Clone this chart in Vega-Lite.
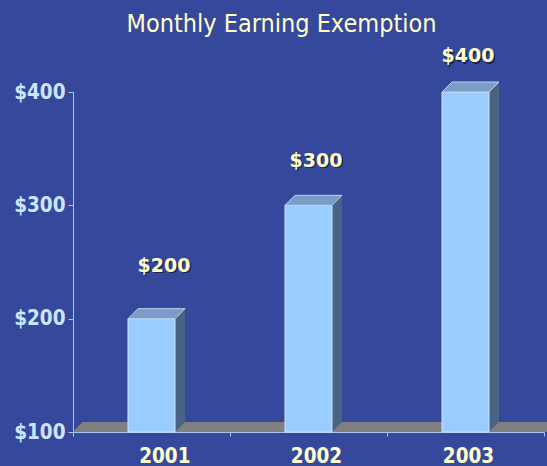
{
  "$schema": "https://vega.github.io/schema/vega-lite/v6.json",
  "width": 471,
  "height": 340,
  "autosize": "none",
  "padding": {"left": 73, "top": 92, "right": 3, "bottom": 34},
  "background": "#36489c",
  "config": {"view": {"stroke": null}, "font": "DejaVu Sans Condensed, DejaVu Sans"},
  "title": {
    "text": "Monthly Earning Exemption",
    "color": "#FFFFCC",
    "fontSize": 25,
    "fontWeight": "normal",
    "font": "DejaVu Sans Condensed, DejaVu Sans",
    "anchor": "middle",
    "frame": "group",
    "dx": -27,
    "offset": 10
  },
  "data": {
    "values": [
      {"year": "2001", "value": 200},
      {"year": "2002", "value": 300},
      {"year": "2003", "value": 400}
    ]
  },
  "layer": [
    {
      "encoding": {
        "x": {
          "field": "year",
          "type": "nominal",
          "scale": {"paddingInner": 0, "paddingOuter": 0},
          "axis": {
            "title": null,
            "labelAngle": 0,
            "tickBand": "extent",
            "labelOffset": {
              "condition": [
                {"test": "datum.value == '2001'", "value": 12.8},
                {"test": "datum.value == '2002'", "value": 7.5}
              ],
              "value": 2.5
            },
            "labelColor": "#FFFFCC",
            "labelFont": "DejaVu Sans Condensed, DejaVu Sans",
            "labelFontSize": 20.5,
            "labelFontWeight": "bold",
            "labelPadding": 10,
            "domainColor": "#A8C8F0",
            "tickColor": "#A8C8F0",
            "tickSize": 4
          }
        }
      },
      "layer": [
        {
          "mark": {"type": "point", "filled": true, "size": 4, "shape": "M -235.5 0 L -225.5 -10 L 250 -10 L 240 0 Z", "color": "#808080", "opacity": 1},
          "encoding": {
            "x": {"datum": "2002", "type": "nominal"},
            "y": {"datum": 100, "type": "quantitative", "scale": {"domain": [100, 400]}}
          }
        },
        {
          "mark": {"type": "bar", "width": 10, "xOffset": 28.5, "yOffset": -10, "y2Offset": -10, "color": "#4C6283"},
          "encoding": {
            "y": {
              "field": "value",
              "type": "quantitative",
              "scale": {"domain": [100, 400]},
              "axis": {
                "title": null,
                "values": [100, 200, 300, 400],
                "labelExpr": "'$' + datum.value",
                "labelColor": "#CCE5FF",
                "labelFont": "DejaVu Sans Condensed, DejaVu Sans",
                "labelFontSize": 20.5,
                "labelFontWeight": "bold",
                "labelPadding": 3,
                "domainColor": "#A8C8F0",
                "tickColor": "#A8C8F0",
                "tickSize": 5,
                "grid": false
              }
            },
            "y2": {"datum": 100}
          }
        },
        {
          "mark": {"type": "point", "filled": true, "size": 4, "shape": "M 23.5 0 L 33.5 -10 L 23.5 -10 Z", "color": "#4C6283", "opacity": 1},
          "encoding": {
            "y": {"datum": 100, "type": "quantitative"}
          }
        },
        {
          "mark": {"type": "bar", "width": 47, "color": "#99CCFF", "stroke": "#CCE6FF", "strokeWidth": 1},
          "encoding": {
            "y": {"field": "value", "type": "quantitative"},
            "y2": {"datum": 100}
          }
        },
        {
          "mark": {"type": "point", "filled": true, "size": 4, "shape": "M -23.5 0 L 23.5 0 L 33.5 -10 L -13.5 -10 Z", "color": "#7A9CC6", "stroke": "#B8D4F4", "strokeWidth": 1, "opacity": 1},
          "encoding": {
            "y": {"field": "value", "type": "quantitative"}
          }
        }
      ]
    },
    {
      "encoding": {
        "x": {"field": "year", "type": "nominal", "scale": {"padding": 0.549}, "axis": null},
        "y": {"field": "value", "type": "quantitative", "scale": {"domain": [41.6, 365.7]}, "axis": null},
        "text": {"field": "value", "type": "quantitative", "format": "$.0f"}
      },
      "layer": [
        {"mark": {"type": "text", "dx": 9, "dy": 1.5, "font": "DejaVu Sans", "fontSize": 19, "fontWeight": "bold", "color": "#1E2450", "baseline": "middle"}},
        {"mark": {"type": "text", "dx": 7.5, "font": "DejaVu Sans", "fontSize": 19, "fontWeight": "bold", "color": "#FFFFCC", "baseline": "middle"}}
      ]
    }
  ],
  "resolve": {"scale": {"y": "independent", "x": "independent"}}
}
